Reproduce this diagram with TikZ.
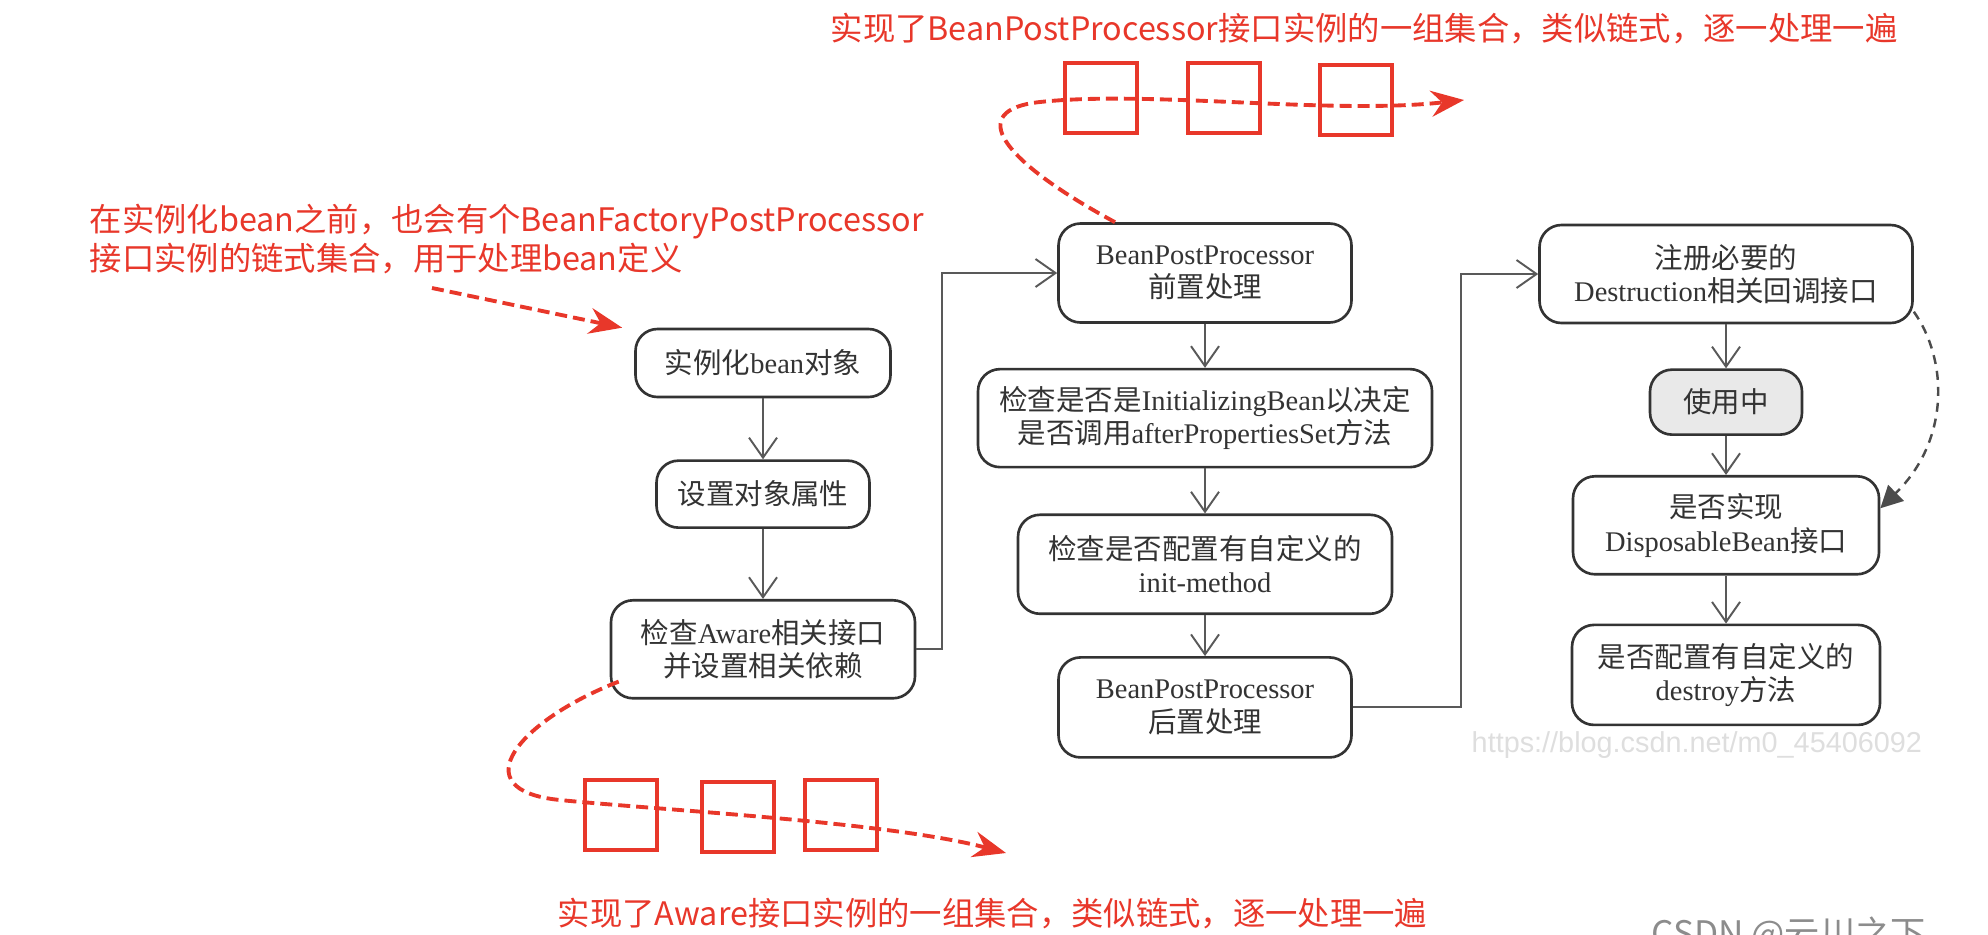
\documentclass[tikz,border=0pt]{standalone}
\usepackage{fontspec}
\setmainfont{Liberation Serif}
\newfontfamily\zh{Noto Sans CJK SC}
\newfontfamily\wmfont{Liberation Sans}
\usetikzlibrary{arrows.meta,positioning,calc}
\definecolor{markred}{HTML}{E8372A}
\definecolor{inkgray}{HTML}{333333}
\definecolor{usefill}{HTML}{E9E9E9}
\newcommand\stagefont{\fontsize{8.1pt}{9.5pt}\selectfont}
\newcommand\remarkfont{\zh\fontsize{9.2pt}{9.7pt}\selectfont}
\tikzset{
  stage/.style={rectangle, rounded corners=2.2mm, draw=inkgray, line width=0.75pt, fill=#1,
                align=center, font=\stagefont, text=inkgray, inner sep=0pt},
  stage/.default=white,
  arr/.style={-{Straight Barb[length=2mm,width=2.8mm]}, line width=0.55pt, draw=black!65},
  redarr/.style={-{Stealth[length=3.3mm,width=2.6mm,inset=1.1mm]}, line width=1.1pt, draw=markred,
                 dash pattern=on 1.2mm off 0.6mm},
  backarr/.style={-{Triangle[length=2.2mm,width=2.2mm]}, line width=0.7pt, draw=black!70,
                  dash pattern=on 0.9mm off 0.7mm},
  chainbox/.style={rectangle, draw=markred, line width=1.4pt, minimum width=7.2mm, minimum height=7mm, inner sep=0pt},
  remark/.style={text=markred, font=\remarkfont, inner sep=0pt, align=left},
}
\begin{document}
\begin{tikzpicture}[x=0.1mm, y=-0.1mm]
  \useasboundingbox (0,0) rectangle (1988,934);
  % left column
  \node[stage, minimum width=25.5mm, minimum height=6.8mm] (inst) at (763,363) {{\zh 实例化}bean{\zh 对象}};
  \node[stage, minimum width=21.3mm, minimum height=6.7mm, below=6.1mm of inst] (props) {{\zh 设置对象属性}};
  \node[stage, minimum width=30.4mm, minimum height=9.8mm, below=7mm of props] (aware)
    {{\zh 检查}Aware{\zh 相关接口}\\{\zh 并设置相关依赖}};
  % middle column
  \node[stage, minimum width=29.3mm, minimum height=9.9mm] (pre) at (1205,273) {BeanPostProcessor\\{\zh 前置处理}};
  \node[stage, minimum width=45.4mm, minimum height=9.8mm, below=4.4mm of pre] (initb)
    {{\zh 检查是否是}InitializingBean{\zh 以决定}\\{\zh 是否调用}afterPropertiesSet{\zh 方法}};
  \node[stage, minimum width=37.4mm, minimum height=9.9mm, below=4.5mm of initb] (initm)
    {{\zh 检查是否配置有自定义的}\\init-method};
  \node[stage, minimum width=29.3mm, minimum height=10mm, below=4.1mm of initm] (post) {BeanPostProcessor\\{\zh 后置处理}};
  % right column
  \node[stage, minimum width=37.3mm, minimum height=9.8mm] (reg) at (1726,274)
    {{\zh 注册必要的}\\Destruction{\zh 相关回调接口}};
  \node[stage=usefill, minimum width=15.2mm, minimum height=6.5mm, below=4.4mm of reg] (inuse) {{\zh 使用中}};
  \node[stage, minimum width=30.6mm, minimum height=9.8mm, below=3.9mm of inuse] (disp)
    {{\zh 是否实现}\\DisposableBean{\zh 接口}};
  \node[stage, minimum width=30.8mm, minimum height=10mm, below=4.8mm of disp] (destroy)
    {{\zh 是否配置有自定义的}\\destroy{\zh 方法}};

  \draw[arr] (inst) -- (props); \draw[arr] (props) -- (aware);
  \draw[arr] (aware.east) -- ++(2.6mm,0) |- (pre.west);
  \draw[arr] (pre) -- (initb); \draw[arr] (initb) -- (initm); \draw[arr] (initm) -- (post);
  \draw[arr] (post.east) -- ++(10.8mm,0) |- (reg.west);
  \draw[arr] (reg) -- (inuse); \draw[arr] (inuse) -- (disp); \draw[arr] (disp) -- (destroy);
  \draw[backarr] ($(reg.east)!0.75!(reg.south east)$) .. controls (1948,360) and (1950,440) .. ([yshift=1.7mm]disp.east);

  % red chains
  \foreach \x/\y [count=\i] in {1101/98, 1224/98, 1356/100}
    \node[chainbox] (tb\i) at (\x,\y) {};
  \foreach \x/\y [count=\i] in {621/815, 738/817, 841/815}
    \node[chainbox] (bb\i) at (\x,\y) {};
  \coordinate (topend) at (1464,100);
  \coordinate (botend) at (1006,853);
  \coordinate (prestart) at (432,288);
  \draw[redarr] ([xshift=-9mm]pre.north) .. controls (1000,160) and (965,110) .. (1040,102)
    .. controls (1150,90) and (1330,115) .. (topend);
  \draw[redarr] ($(aware.south west)+(9,-18)$) .. controls (520,720) and (460,790) .. (560,800)
    .. controls (660,810) and (890,822) .. (botend);
  \draw[redarr] (prestart) -- ([xshift=-1.2mm]inst.north west);

  \node[remark, anchor=west] (topnote) at (830,29) {实现了BeanPostProcessor接口实例的一组集合，类似链式，逐一处理一遍};
  \node[remark, anchor=west] (leftnote) at (89,239) {在实例化bean之前，也会有个BeanFactoryPostProcessor\\接口实例的链式集合，用于处理bean定义};
  \node[remark, anchor=west] (botnote) at (557,914) {实现了Aware接口实例的一组集合，类似链式，逐一处理一遍};

  % watermarks
  \node[font={\wmfont\fontsize{8.2pt}{9pt}\selectfont}, text=black!13, inner sep=0pt, anchor=base west] (wmurl)
    at (1471,752) {https://blog.csdn.net/m0\_45406092};
  \node[font={\zh\fontsize{10pt}{11pt}\selectfont}, text=black!45, inner sep=0pt, anchor=base west] (wmcsdn)
    at (1651,946) {CSDN @云川之下};
\end{tikzpicture}
\end{document}
